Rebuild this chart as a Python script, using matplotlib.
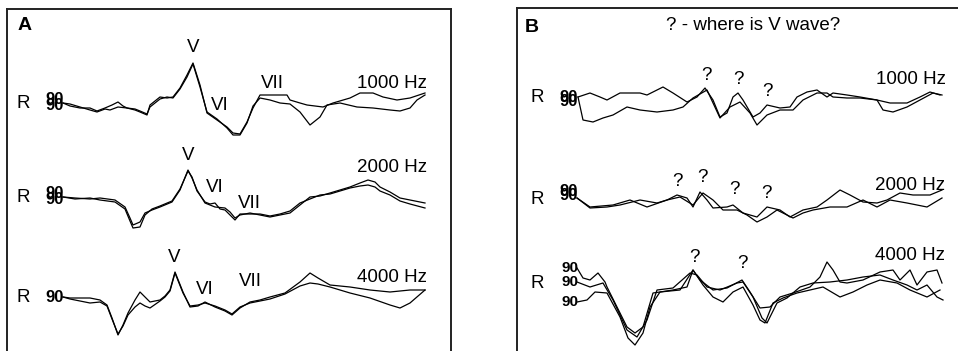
import numpy as np
import matplotlib.pyplot as plt

plt.rcParams['font.family'] = ['Liberation Sans', 'DejaVu Sans']

# ---- panel A traces: (time index, amplitude) relative to each trace start ----
a1_t1 = [0, 7, 17, 27, 34, 42, 47, 55, 64, 72, 77, 84, 87, 97, 104, 110, 117, 124, 130, 137, 144, 154, 164,
         170, 177, 184, 190, 197, 207, 217, 224, 227, 237, 244, 260, 270, 287, 297, 310, 320, 334, 347, 362]
a1_v1 = [0, -1, -4, -7, -9, -6, -7, -4, -5, -7, -9, -12, -2, 6, 5, 6, 15, 28, 40, 18, -10, -17, -24,
         -30, -31, -19, -5, 8, 8, 8, 8, 3, 0, -2, -4, 0, 5, 10, 10, 6, 3, 5, 10]
a1_t2 = [0, 7, 17, 27, 34, 42, 49, 55, 60, 64, 72, 77, 84, 87, 97, 104, 110, 117, 124, 130, 137, 144, 154,
         164, 170, 177, 184, 190, 197, 207, 217, 227, 237, 247, 257, 264, 277, 294, 310, 327, 337, 347, 354, 362]
a1_v2 = [0, -3, -5, -5, -8, -5, -2, 1, -3, -5, -6, -8, -11, -4, 4, 6, 5, 14, 26, 39, 16, -9, -16,
         -25, -32, -32, -20, -3, 5, 3, 0, -1, -9, -22, -14, -2, 0, -4, -5, -7, -8, -5, 3, 8]

a2_t1 = [0, 12, 27, 37, 52, 62, 67, 70, 77, 82, 89, 97, 109, 117, 125, 129, 134, 142, 147, 152, 162, 167,
         172, 177, 187, 197, 207, 217, 227, 237, 247, 257, 267, 277, 287, 297, 305, 312, 317, 327, 337, 347, 362]
a2_v1 = [0, -1, -2, -1, -3, -10, -21, -28, -25, -16, -13, -10, -5, 7, 27, 19, 7, -6, -8, -10, -11, -15,
         -21, -18, -16, -18, -20, -18, -16, -8, 0, 1, 4, 7, 10, 14, 17, 15, 10, 5, -1, -3, -6]
a2_t2 = [0, 12, 27, 37, 52, 62, 67, 70, 77, 82, 89, 97, 109, 117, 125, 129, 134, 142, 147, 152, 157, 162,
         167, 172, 177, 187, 197, 207, 217, 227, 237, 247, 257, 267, 277, 287, 297, 305, 312, 317, 327, 337, 347, 362]
a2_v2 = [0, -2, -1, -3, -5, -12, -24, -31, -30, -18, -12, -9, -4, 8, 26, 20, 6, -5, -7, -6, -12, -13,
         -18, -23, -17, -17, -17, -19, -17, -14, -6, -2, 2, 3, 6, 9, 11, 12, 10, 6, 2, -4, -7, -11]

a3_t1 = [0, 7, 17, 27, 37, 44, 49, 55, 60, 65, 72, 77, 82, 87, 97, 102, 107, 112, 116, 120, 127, 135, 142,
         152, 162, 169, 177, 187, 197, 207, 222, 237, 247, 255, 267, 287, 307, 327, 347, 362]
a3_v1 = [0, -1, -1, -1, -3, -8, -21, -38, -28, -16, -3, 5, 0, -5, -3, 1, 7, 25, 15, 5, -10, -9, -5,
         -10, -14, -18, -11, -5, -3, 0, 4, 15, 24, 19, 12, 10, 7, 5, 7, 7]
a3_t2 = [0, 7, 17, 27, 37, 44, 49, 55, 60, 65, 72, 77, 82, 87, 97, 102, 107, 112, 116, 120, 127, 135, 142,
         152, 162, 169, 177, 187, 197, 207, 222, 237, 247, 255, 267, 287, 307, 327, 337, 347, 362]
a3_v2 = [0, -2, -4, -6, -5, -9, -22, -37, -29, -18, -10, -6, -9, -11, -4, 0, 6, 24, 14, 4, -9, -8, -6,
         -9, -13, -17, -10, -6, -4, -2, 3, 11, 14, 13, 10, 4, -1, -8, -11, -6, 7]

# ---- panel B traces ----
b1_t1 = [1, 13, 23, 30, 43, 63, 70, 76, 86, 96, 110, 120, 128, 136, 143, 150, 156, 161, 166, 176, 183,
         190, 203, 213, 220, 230, 240, 250, 256, 270, 283, 300, 313, 330, 343, 353, 363]
b1_v1 = [0, 4, 0, -3, 4, 4, 2, 5, 10, 4, -5, 0, 9, -3, -20, -16, 0, 4, -3, -20, -16,
         -8, -11, -10, 0, 5, 7, 0, 4, 2, 0, -3, -6, -6, 0, 5, 2]
b1_t2 = [1, 6, 16, 26, 36, 50, 63, 80, 96, 106, 116, 130, 143, 153, 163, 173, 180, 190, 203, 216, 226,
         240, 250, 256, 270, 283, 300, 306, 316, 330, 343, 356, 365]
b1_v2 = [0, -23, -25, -21, -18, -10, -13, -15, -13, -10, -1, 7, -21, -10, -5, -16, -28, -18, -13, -13, -3,
         4, 4, 0, -1, -1, -3, -13, -15, -10, -3, 4, 2]

b2_t1 = [0, 13, 30, 43, 63, 80, 90, 100, 110, 116, 123, 130, 136, 150, 156, 166, 180, 190, 203, 213, 226,
         240, 250, 263, 273, 286, 300, 310, 323, 336, 353, 365]
b2_v1 = [0, -10, -9, -7, -2, -5, -2, 3, 0, -9, 6, -2, -10, -9, -7, -15, -19, -9, -12, -19, -12,
         -9, -2, 8, 3, -4, -5, -2, 5, 3, 3, 8]
b2_t2 = [0, 13, 36, 53, 70, 90, 103, 116, 126, 136, 146, 160, 170, 180, 190, 200, 216, 226, 236, 253, 270,
         286, 300, 313, 330, 350, 365]
b2_v2 = [0, -9, -7, -2, -9, -2, 1, -7, 5, -2, -12, -12, -17, -24, -19, -12, -20, -15, -12, -9, -9,
         -2, -9, -2, -5, -9, 0]

b3_t1 = [0, 6, 13, 21, 28, 30, 43, 50, 58, 66, 76, 83, 96, 110, 116, 123, 136, 150, 165, 173, 183, 193,
         203, 216, 233, 243, 250, 256, 263, 270, 286, 303, 316, 323, 333, 340, 350, 360, 365]
b3_v1 = [15, 5, 3, 10, 1, -4, -30, -44, -50, -44, -10, -9, -7, -4, 13, 3, -7, -5, 3, -9, -25, -24,
         -14, -10, -4, 6, 21, 13, 1, 0, 3, 11, 13, 3, 13, -2, 11, 13, 0]
b3_t2 = [0, 13, 26, 36, 50, 60, 70, 80, 96, 113, 120, 130, 143, 160, 166, 176, 185, 190, 200, 210, 223,
         236, 253, 270, 286, 303, 316, 330, 340, 350, 360, 366]
b3_v2 = [1, -4, 0, -17, -47, -54, -37, -7, -5, 10, 8, -4, -7, 0, 1, -14, -35, -40, -20, -15, -4,
         0, 1, 3, 6, 8, 3, -2, -7, -2, -14, -17]
b3_t3 = [0, 10, 18, 30, 43, 51, 58, 66, 73, 83, 103, 116, 126, 136, 146, 156, 166, 176, 183, 188, 196,
         206, 220, 233, 246, 263, 276, 290, 303, 320, 333, 350, 363]
b3_v3 = [-19, -17, -9, -10, -34, -55, -62, -50, -24, -9, -7, 13, -2, -14, -19, -9, -4, -22, -37, -40, -20,
         -15, -10, -7, -4, -14, -9, -2, 3, 0, -7, -14, -7]

freq_labels = ['1000 Hz', '2000 Hz', '4000 Hz']
wave_labels = ['V', 'VI', 'VII']

# row baselines (amplitude offsets) in each panel
A_BASE = [248, 154, 54]
B_BASE = [254, 153, 68]

W, H = 958, 351
fig = plt.figure(figsize=(9.58, 3.51), dpi=100)
fig.patch.set_facecolor('white')

axA = fig.add_axes([7 / W, 0, 444 / W, 342 / H])
axB = fig.add_axes([517 / W, 0, 441 / W, 343 / H])
axA.set_xlim(-56, 388)
axA.set_ylim(0, 342)
axB.set_xlim(-60, 381)
axB.set_ylim(0, 343)

for ax in (axA, axB):
    ax.set_xticks([])
    ax.set_yticks([])
    ax.spines['bottom'].set_visible(False)
    for s in ('left', 'top', 'right'):
        ax.spines[s].set_linewidth(1.4)
        ax.spines[s].set_color('#222222')
axB.spines['right'].set_visible(False)

LW = 0.9
TXT = 13.5

rowsA = [[(a1_t1, a1_v1), (a1_t2, a1_v2)],
         [(a2_t1, a2_v1), (a2_t2, a2_v2)],
         [(a3_t1, a3_v1), (a3_t2, a3_v2)]]
for base, traces in zip(A_BASE, rowsA):
    for t, v in traces:
        axA.plot(t, np.array(v) + base, color='black', lw=LW)

rowsB = [[(b1_t1, b1_v1), (b1_t2, b1_v2)],
         [(b2_t1, b2_v1), (b2_t2, b2_v2)],
         [(b3_t1, b3_v1), (b3_t2, b3_v2), (b3_t3, b3_v3)]]
for base, traces in zip(B_BASE, rowsB):
    for t, v in traces:
        axB.plot(t, np.array(v) + base, color='black', lw=LW)

# panel A text
axA.text(-38, 325, 'A', fontsize=14, fontweight='bold', ha='center', va='center')
for base in A_BASE:
    axA.text(-40, base, 'R', fontsize=TXT, ha='center', va='center')
# stacked channel labels (they overlap in the original too)
LBL = 12
axA.text(1, A_BASE[0] + 3, '90', fontsize=LBL, fontweight='bold', ha='right', va='center')
axA.text(1, A_BASE[0] - 3, '90', fontsize=LBL, fontweight='bold', ha='right', va='center')
axA.text(1, A_BASE[1] + 3, '90', fontsize=LBL, fontweight='bold', ha='right', va='center')
axA.text(1, A_BASE[1] - 2, '90', fontsize=LBL, fontweight='bold', ha='right', va='center')
axA.text(1, A_BASE[2], '90', fontsize=LBL, fontweight='bold', ha='right', va='center')

wave_pos_A = [[(130, 55), (157, -2), (209, 20)],
              [(125, 41), (152, 10), (186, -6)],
              [(111, 40), (142, 8), (187, 15)]]
for base, poss, flab in zip(A_BASE, wave_pos_A, freq_labels):
    for (x, dy), wl in zip(poss, wave_labels):
        axA.text(x, base + dy, wl, fontsize=TXT, ha='center', va='center')
    axA.text(329, base + (20 if base != A_BASE[1] else 29), flab, fontsize=TXT, ha='center', va='center')

# panel B text
axB.text(-45, 324, 'B', fontsize=14, fontweight='bold', ha='center', va='center')
axB.text(176, 325, '? - where is V wave?', fontsize=TXT, ha='center', va='center')
for base in B_BASE:
    axB.text(-40, base - 1, 'R', fontsize=TXT, ha='center', va='center')
axB.text(1, B_BASE[0], '90', fontsize=LBL, fontweight='bold', ha='right', va='center')
axB.text(1, B_BASE[0] - 5, '90', fontsize=LBL, fontweight='bold', ha='right', va='center')
axB.text(1, B_BASE[1] + 7, '90', fontsize=LBL, fontweight='bold', ha='right', va='center')
axB.text(1, B_BASE[1] + 2, '90', fontsize=LBL, fontweight='bold', ha='right', va='center')
for dy in (15, 1, -19):
    axB.text(1, B_BASE[2] + dy, '90', fontsize=11, fontweight='bold', ha='right', va='center')

q_pos_B = [[(129, 22), (161, 17), (190, 5)],
           [(100, 17), (125, 20), (157, 8), (189, 5)],
           [(117, 26), (165, 20)]]
for base, poss in zip(B_BASE, q_pos_B):
    for x, dy in poss:
        axB.text(x, base + dy, '?', fontsize=TXT, ha='center', va='center')
axB.text(334, B_BASE[0] + 17, freq_labels[0], fontsize=TXT, ha='center', va='center')
axB.text(333, B_BASE[1] + 13, freq_labels[1], fontsize=TXT, ha='center', va='center')
axB.text(333, B_BASE[2] + 28, freq_labels[2], fontsize=TXT, ha='center', va='center')

fig.savefig('out.png', dpi=100, facecolor='white')
